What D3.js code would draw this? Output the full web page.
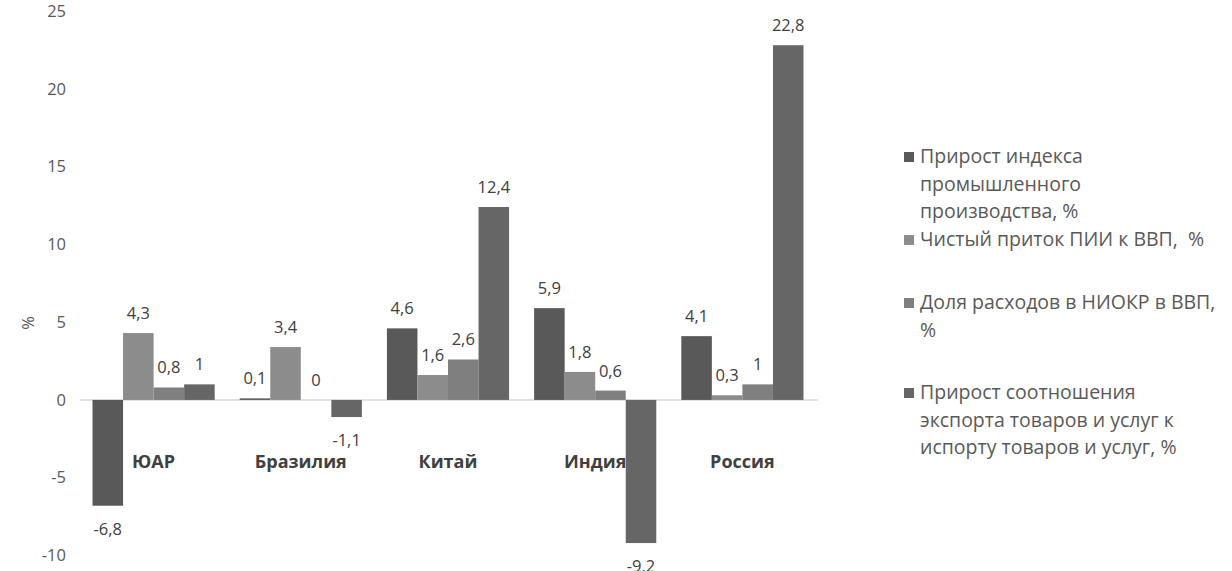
<!DOCTYPE html>
<html>
<head>
<meta charset="utf-8">
<script src="https://cdnjs.cloudflare.com/ajax/libs/d3/7.8.5/d3.min.js"></script>
<style>
body{margin:0;background:#fff;}
svg{display:block;font-family:"Open Sans",sans-serif;}
</style>
</head>
<body>
<div id="chart"></div>
<script>
var countries = ["ЮАР","Бразилия","Китай","Индия","Россия"]
var seriesNames = [
	["Прирост индекса","промышленного","производства, %"],
	["Чистый приток ПИИ к ВВП,  %"],
	["Доля расходов в НИОКР в ВВП,","%"],
	["Прирост соотношения","экспорта товаров и услуг к","испорту товаров и услуг, %"]
]
var industry = [-6.8, 0.1, 4.6, 5.9, 4.1]
var fdi = [4.3, 3.4, 1.6, 1.8, 0.3]
var rnd = [0.8, 0, 2.6, 0.6, 1]
var exportRatio = [1, -1.1, 12.4, -9.2, 22.8]
var yTicks = [-10,-5,0,5,10,15,20,25]

var colors = ["#595959","#8c8c8c","#7f7f7f","#666666"]
var series = [industry, fdi, rnd, exportRatio]

var width = 1232, height = 571
var svg = d3.select("#chart").append("svg").attr("width",width).attr("height",height)

var x0 = d3.scaleBand().domain(countries).range([80,816]).paddingInner(0.17).paddingOuter(0.085)
var x1 = d3.scaleBand().domain(d3.range(series.length)).range([0,x0.bandwidth()])
var y = d3.scaleLinear().domain([-10,25]).range([555.5,11])

function fmt(v){
	return String(v).replace(".",",")
}

// y axis: labels only, no line
var yAxis = svg.append("g").attr("transform","translate(66,0)")
	.call(d3.axisLeft(y).tickValues(yTicks).tickSize(0).tickPadding(0).tickFormat(function(d){return d}))
yAxis.select(".domain").remove()
yAxis.selectAll("text").attr("font-size","16.5px").attr("fill","#595959").attr("font-family","Open Sans")

svg.append("text").attr("transform","translate(34,323) rotate(-90)")
	.attr("text-anchor","middle").attr("font-size","16.5px").attr("fill","#595959").text("%")

// zero line
svg.append("line").attr("x1",80).attr("x2",818).attr("y1",y(0)).attr("y2",y(0))
	.attr("stroke","#d9d9d9").attr("stroke-width",1.5)

var rows = []
for(var s in series){
	for(var c in countries){
		rows.push({s:+s, country:countries[c], v:series[s][c]})
	}
}

var bars = svg.append("g").selectAll("rect").data(rows).enter()
bars.append("rect")
	.attr("x",function(d){return x0(d.country)+x1(d.s)})
	.attr("width",x1.bandwidth())
	.attr("y",function(d){return y(Math.max(0,d.v))})
	.attr("height",function(d){return Math.abs(y(d.v)-y(0))})
	.attr("fill",function(d){return colors[d.s]})

svg.append("g").selectAll("text").data(rows).enter().append("text")
	.attr("x",function(d){return x0(d.country)+x1(d.s)+x1.bandwidth()/2})
	.attr("y",function(d){return d.v<0 ? y(d.v)+29 : y(d.v)-14})
	.attr("text-anchor","middle").attr("font-size","16.5px").attr("fill","#404040")
	.text(function(d){return fmt(d.v)})

// category labels sit below the zero line
svg.append("g").selectAll("text").data(countries).enter().append("text")
	.attr("x",function(d){return x0(d)+x0.bandwidth()/2})
	.attr("y",468)
	.attr("text-anchor","middle").attr("font-size","18px").attr("font-weight","bold").attr("fill","#404040")
	.text(function(d){return d})

// legend
var legendTop = [157,240,303,393]
var lineH = 27.5
var legend = svg.append("g")
for(var i in seriesNames){
	var g = legend.append("g")
	g.append("rect").attr("x",904).attr("y",legendTop[i]-5).attr("width",10).attr("height",10).attr("fill",colors[i])
	g.selectAll("text").data(seriesNames[i]).enter().append("text")
		.attr("x",920)
		.attr("y",function(d,j){return legendTop[i]+6+j*lineH})
		.attr("font-size","19.5px").attr("fill","#595959")
		.style("white-space","pre")
		.text(function(d){return d})
}
</script>
</body>
</html>
